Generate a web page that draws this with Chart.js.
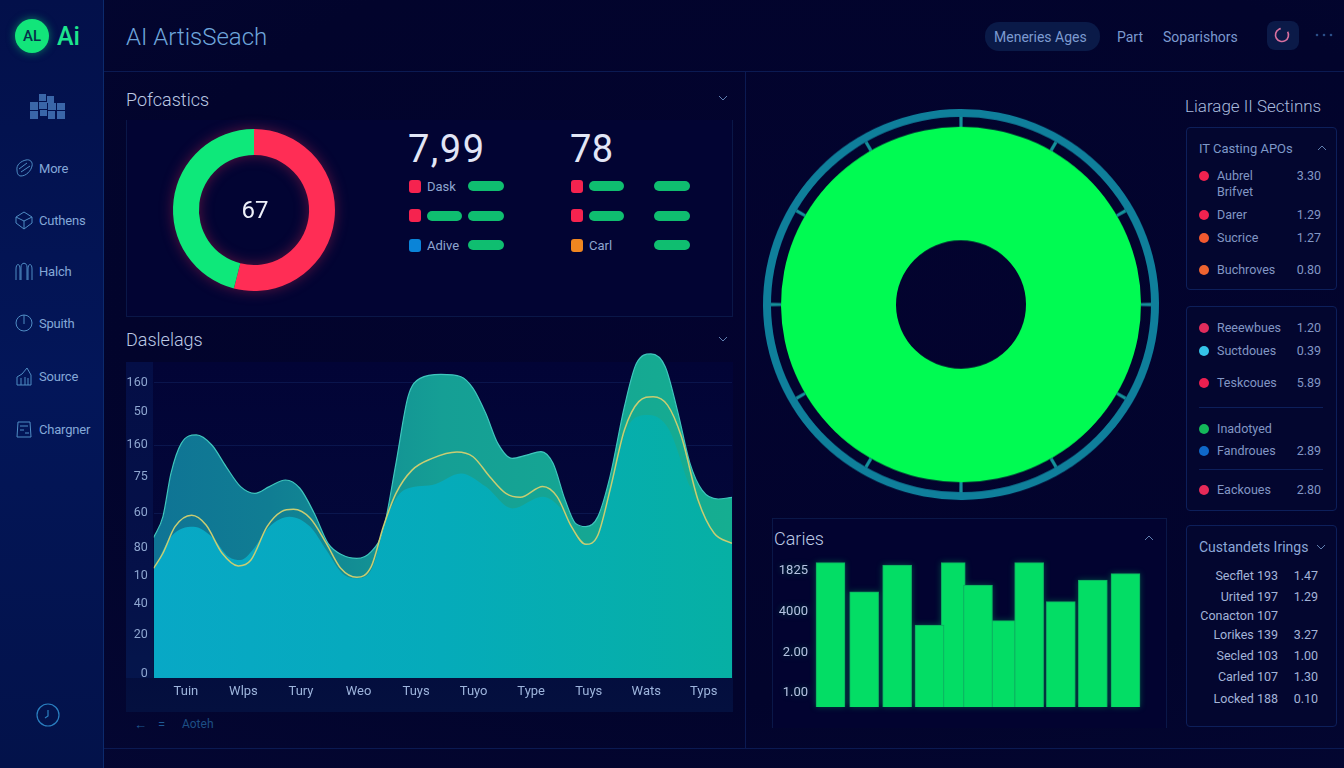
<!DOCTYPE html>
<html><head><meta charset="utf-8">
<script src="https://cdn.jsdelivr.net/npm/chart.js@4"></script>
<style>
html,body{margin:0;padding:0;background:#03042e;width:1344px;height:768px;overflow:hidden;font-family:Roboto,"Open Sans",sans-serif}
#root{position:relative;width:1344px;height:768px;overflow:hidden;background:radial-gradient(ellipse at 60% 40%,#03032f 0%,#02042c 60%,#040733 100%)}
.b{position:absolute;box-sizing:border-box}
.t{position:absolute;white-space:nowrap;transform:translateY(-50%);line-height:1}
.r{transform:translate(-100%,-50%)}
canvas{position:absolute;display:block}
svg{position:absolute;overflow:visible}
</style></head><body><div id="root"></div>
<script>
// ---- values ----
const donutSmallValues=[54,46];
const donutSmallColors=['#ff2d55','#0ee87a'];
const bigSolid=[100];
const bigTicks=[1,29,1,29,1,29,1,29,1,29,1,29,1,29,1,29,1,29,1,29,1,29,1,29];

const areaCats=['Tuin','Wlps','Tury','Weo','Tuys','Tuyo','Type','Tuys','Wats','Typs'];
const areaYTickVals=[2.4,26,45,62,79,100,122,141,161,179];
const areaYLabels=['0','20','40','10','80','60','75','160','50','160'];
const areaGridVals=[100,141,179];

const backX=[-.56,-.40,-.26,-.08,.18,.45,.70,.95,1.20,1.45,1.73,1.98,2.23,2.47,2.72,2.97,3.22,3.43,3.65,3.86,4.07,4.43,4.78,4.99,5.21,5.42,5.67,5.92,6.17,6.38,6.59,6.77,6.95,7.16,7.37,7.62,7.83,8.08,8.33,8.54,8.76,8.97,9.25,9.49];
const backY=[85.2,97.8,124,142.2,147.3,141.2,128,116,111.9,116,120,115,99.8,81.6,74.5,72.5,76.6,89.7,130.1,170.5,181.6,184,182.6,175.5,160.4,142.2,133.1,135.1,137.2,130.1,107.9,93.7,91.7,97.8,122,164.4,190.7,196.4,188.7,162.4,130.1,113.9,108.5,109.5];
const lineX=[-.56,-.40,-.19,.10,.35,.63,.91,1.13,1.41,1.66,1.87,2.16,2.44,2.69,2.97,3.22,3.43,3.65,3.93,4.28,4.71,4.99,5.28,5.56,5.81,6.20,6.45,6.70,6.95,7.16,7.37,7.62,7.87,8.12,8.37,8.61,8.90,9.18,9.49];
const lineY=[66.5,75.6,91.7,98.6,92.7,75.6,67.9,71.5,91.7,100.8,102.2,96.8,81.6,66.5,61,67.5,91.7,111.9,126,133.1,137,134.1,122,111.9,109.5,116,109.9,91.7,81,86.7,113.9,150.3,167.5,170.5,165.4,146.3,107.9,87.7,81.6];
const frontX=[-.56,-.26,.13,.45,.74,.95,1.16,1.45,1.80,2.16,2.44,2.72,2.97,3.22,3.50,3.79,4.28,4.78,5.21,5.67,6.20,6.49,6.91,7.16,7.41,7.76,8.05,8.40,8.76,9.18,9.49];
const frontY=[65.4,85.6,91.7,85.6,73.5,71.5,77.6,91.7,97.8,91.7,77.6,63.4,60.4,65.4,97.8,113.9,117,124,116,102.8,109.9,103.8,81.6,86.7,122,156.4,159.4,150.3,116,87.7,81.6];

const barX=[0,1.02,2.02,3,4.47,6.02,6.98,7.95,8.94];
const barY=[4.21,3.49,4.15,2.67,3.66,4.21,3.25,3.78,3.94];
const barNarrowX=[3.72,5.24];
const barNarrowY=[4.21,2.78];
const barYTicks=[1,2,3,4];
const barYLabels=['1.00','2.00','4000','1825'];

const navItems=['More','Cuthens','Halch','Spuith','Source','Chargner'];
const listOne=[['Aubrel','3.30','#f0224f'],['Darer','1.29','#f0224f'],['Sucrice','1.27','#f2592f'],['Buchroves','0.80','#ee6430']];
const listTwo=[['Reeewbues','1.20','#e02c5c'],['Suctdoues','0.39','#35c3e8'],['Teskcoues','5.89','#ec1f50'],['Inadotyed','','#14b85a'],['Fandroues','2.89','#0f68c8'],['Eackoues','2.80','#e62a58']];
const listThree=[['Secflet 193','1.47'],['Urited 197','1.29'],['Conacton 107',''],['Lorikes 139','3.27'],['Secled 103','1.00'],['Carled 107','1.30'],['Locked 188','0.10']];

// ---- page furniture ----
const root=document.getElementById('root');
function box(x,y,w,h,css){const d=document.createElement('div');d.className='b';d.style.cssText+=`left:${x}px;top:${y}px;width:${w}px;height:${h}px;`+(css||'');root.appendChild(d);return d;}
function txt(x,y,s,size,color,opt){opt=opt||{};const d=document.createElement('div');d.className='t'+(opt.right?' r':'');d.textContent=s;d.style.cssText+=`left:${x}px;top:${y}px;font-size:${size}px;color:${color};font-weight:${opt.w||400};`+(opt.css||'');root.appendChild(d);return d;}
function svg(x,y,w,h,inner){const n=document.createElementNS('http://www.w3.org/2000/svg','svg');n.setAttribute('width',w);n.setAttribute('height',h);n.setAttribute('viewBox',`0 0 ${w} ${h}`);n.style.left=x+'px';n.style.top=y+'px';n.innerHTML=inner;root.appendChild(n);}
function chev(x,y,up,c){svg(x,y,10,6,`<path d="M1 ${up?5:1} L5 ${up?1:5} L9 ${up?5:1}" fill="none" stroke="${c||'#5f7fb0'}" stroke-width="1"/>`);}
function canvas(x,y,w,h,css){const c=document.createElement('canvas');c.width=w;c.height=h;c.style.cssText=`left:${x}px;top:${y}px;width:${w}px;height:${h}px;`+(css||'');root.appendChild(c);return c;}

// sidebar + rules
box(0,0,104,768,'background:linear-gradient(180deg,#03104a 0%,#031659 50%,#03124a 100%);border-right:1px solid #0c2a6c');
box(104,71,1240,1,'background:#0b1a52');
box(745,71,1,677,'background:#0b1a52');
box(104,748,1240,1,'background:#0b1a52');

// logo
box(15,19,34,34,'border-radius:50%;background:#12e57a;box-shadow:0 0 8px rgba(18,229,122,.5)');
txt(32,36,'AL',15,'#06304a',{w:500,css:'transform:translate(-50%,-50%);'});
txt(57,36,'Ai',25,'#1de58e',{w:500});
// blocks icon
svg(30,94,36,26,'<g fill="#3a66a8"><rect x="9" y="0" width="7" height="7"/><rect x="17" y="2" width="7" height="7"/><rect x="0" y="8" width="8" height="8"/><rect x="9" y="8" width="8" height="7"/><rect x="18" y="9" width="8" height="7"/><rect x="27" y="9" width="8" height="7"/><rect x="0" y="17" width="8" height="8"/><rect x="10" y="16" width="7" height="6"/><rect x="18" y="17" width="7" height="8"/><rect x="27" y="17" width="8" height="8"/></g>');
const navY=[168,220,271,323,376,429];
const navIcons=[
 '<path d="M2 11 C1 6 6 2 11 1 C15 0 18 3 17 7 C16 12 11 17 6 17 C3 17 2 14 2 11 Z M4 10 L12 4 M6 13 L15 7"/>',
 '<path d="M1 6 L9 1 L17 6 L17 12 L9 18 L1 12 Z M1 6 L9 10 L17 6 M9 10 L9 18"/>',
 '<path d="M1 18 L1 7 C1 1 5 1 5 7 L5 18 M6 18 L6 5 C6 0 12 0 12 5 L12 18 M13 18 L13 7 C13 1 17 1 17 7 L17 18"/>',
 '<circle cx="9" cy="9" r="8"/><path d="M9 1 L9 10"/>',
 '<path d="M2 18 L2 10 L7 7 L12 1 L16 8 L16 18 Z M6 18 L6 11 M10 18 L10 10 M13 18 L13 11"/>',
 '<path d="M3 2 L15 2 L16 17 L2 17 Z M5 6 L13 6 M5 10 L9 10 M10 13 L14 13"/>'
];
navItems.forEach((n,i)=>{
  txt(39,navY[i],n,13,'#84a8d8',{css:'letter-spacing:-.2px;'});
  svg(15,navY[i]-9,18,18,`<g fill="none" stroke="#4f8cc4" stroke-width="1">${navIcons[i]}</g>`);
});
svg(36,703,24,24,'<circle cx="12" cy="12" r="11" fill="none" stroke="#2a7fc0" stroke-width="1.2"/><path d="M12 7 L12 13 L9 15" fill="none" stroke="#2a7fc0" stroke-width="1.2"/>');

// header
txt(126,37,'AI ArtisSeach',24,'#6ea6dc',{w:300});
box(985,22,115,29,'border-radius:14px;background:#0a1a48');
txt(994,37,'Meneries Ages',14,'#7c9ad0');
txt(1117,37,'Part',14,'#7c9ad0');
txt(1163,37,'Soparishors',14,'#7c9ad0');
box(1267,21,32,29,'border-radius:8px;background:#0b1a48');
svg(1274,27,16,16,'<circle cx="8" cy="8" r="6.5" fill="none" stroke="#d9709f" stroke-width="1.6" stroke-dasharray="32 9" transform="rotate(-30 8 8)"/>');
svg(1315,33,18,4,'<g fill="#2b4e88"><circle cx="2" cy="2" r="1.3"/><circle cx="9" cy="2" r="1.3"/><circle cx="16" cy="2" r="1.3"/></g>');

// left top panel
txt(126,100,'Pofcastics',18,'#bcc9e4',{w:300});
chev(718,95,false);
box(126,120,607,197,'border:1px solid #0a1748;border-top:none;background:#020433');
txt(408,149,'7,99',38,'#e2e6f6',{css:'letter-spacing:1.5px;'});
txt(570,149,'78',38,'#e2e6f6',{css:'letter-spacing:.5px;'});
function sq(x,y,c){box(x,y,12,13,`border-radius:3px;background:${c}`);}
function pill(x,y,w){box(x,y,w,10,'border-radius:5px;background:#0fbe70');}
sq(409,180,'#f5234f');txt(427,186,'Dask',13,'#8ea6d0');pill(468,181,36);
sq(409,209,'#f5234f');pill(427,211,35);pill(468,211,36);
sq(409,239,'#0a84d8');txt(427,245,'Adive',13,'#8ea6d0');pill(468,240,36);
sq(571,180,'#f5234f');pill(589,181,35);pill(654,181,36);
sq(571,209,'#f5234f');pill(589,211,35);pill(654,211,36);
sq(571,239,'#f08620');txt(589,245,'Carl',13,'#8ea6d0');pill(654,240,36);

// left chart panel
txt(126,340,'Daslelags',18,'#bcc9e4',{w:300});
chev(718,336,false);
box(126,362,607,350,'background:linear-gradient(180deg,#020436 0%,#03083a 60%,#04103f 100%)');
box(126,362,27,316,'background:rgba(10,40,110,.3)');
txt(134,724,'←',13,'#1f5a94');txt(158,724,'=',13,'#1f5a94');txt(182,724,'Aoteh',12,'#1d4f85');

// bars panel
box(772,518,395,210,'border:1px solid #0a1748;border-bottom:none;background:#020330');
txt(774,539,'Caries',18,'#bcc9e4',{w:300});
chev(1144,535,true);

// right lists
txt(1185,106,'Liarage II Sectinns',17,'#a9bbdd',{w:300});
const cardCss='border:1px solid #0d1f5a;border-radius:4px;background:#03062f';
box(1186,127,151,163,cardCss);
box(1186,306,151,205,cardCss);
box(1186,525,151,202,cardCss);
txt(1199,148,'IT Casting APOs',13,'#7d98c8');chev(1317,145,true);
txt(1199,547,'Custandets Irings',14,'#8ca8d8');chev(1316,544,false);
function row(y,item){
  box(1199,y-5,10,10,`border-radius:50%;background:${item[2]}`);
  txt(1217,y,item[0],12.5,'#8296c4');
  if(item[1])txt(1321,y,item[1],12.5,'#8296c4',{right:true});
}
const oneY=[176,215,238,270];
listOne.forEach((it,i)=>row(oneY[i],it));
txt(1217,192,'Brifvet',12.5,'#8296c4');
const twoY=[328,351,383,429,451,490];
listTwo.forEach((it,i)=>row(twoY[i],it));
box(1199,407,124,1,'background:#0d1f5a');box(1199,469,124,1,'background:#0d1f5a');
const threeY=[576,597,616,635,656,677,699];
listThree.forEach((it,i)=>{
  txt(1278,threeY[i],it[0],12.5,'#a3b4d8',{right:true});
  if(it[1])txt(1318,threeY[i],it[1],12.5,'#a3b4d8',{right:true});
});

// ---- charts ----
Chart.defaults.animation=false;
Chart.defaults.font.family='Roboto,"Open Sans",sans-serif';
const plain={legend:{display:false},tooltip:{enabled:false}};
const noPad=s=>{s.paddingTop=0;s.paddingBottom=0;s.paddingLeft=0;s.paddingRight=0;};

// small donut
new Chart(canvas(163,119,182,182,'filter:drop-shadow(0 0 7px rgba(255,45,85,.35))'),{
  type:'doughnut',
  data:{labels:['Red','Green'],datasets:[{data:donutSmallValues,backgroundColor:donutSmallColors,borderWidth:0,hoverOffset:0}]},
  options:{responsive:false,cutout:'68%',layout:{padding:10},plugins:plain}
});
txt(255,210,'67',24,'#eef1fa',{css:'transform:translate(-50%,-50%);'});

// large donut with segmented ring
new Chart(canvas(761,107,400,400,'height:395px;'),{
  type:'doughnut',
  data:{datasets:[
    {data:bigSolid,backgroundColor:['#0f7f9b'],borderWidth:0,weight:8,hoverOffset:0},
    {data:bigTicks,backgroundColor:bigTicks.map((v,i)=>i%2?'rgba(0,0,0,0)':'#15909a'),borderWidth:0,weight:10,hoverOffset:0},
    {data:bigSolid,backgroundColor:['#00fb52'],borderWidth:0,weight:115,hoverOffset:0}
  ]},
  options:{responsive:false,cutout:65,rotation:-0.5,layout:{padding:2},plugins:plain}
});

// area chart
function hGrad(ctx,stops){
  const a=ctx.chart.chartArea;if(!a)return stops[0][1];
  const g=ctx.chart.ctx.createLinearGradient(a.left,0,a.right,0);
  stops.forEach(s=>g.addColorStop(s[0],s[1]));return g;
}
const pairs=(xs,ys)=>xs.map((x,i)=>({x,y:ys[i]}));
const lineBase={pointRadius:0,cubicInterpolationMode:'monotone'};
new Chart(canvas(126,348,606,360),{
  type:'line',
  data:{datasets:[
    {...lineBase,order:3,data:pairs(backX,backY),fill:'origin',borderColor:'#3fc6bd',borderWidth:1.2,
      backgroundColor:c=>hGrad(c,[[0,'#0f7495'],[.2,'#107d93'],[.5,'#159f95'],[1,'#15ae91']])},
    {...lineBase,order:2,data:pairs(frontX,frontY),fill:'origin',borderWidth:0,
      backgroundColor:c=>hGrad(c,[[0,'#08a8c6'],[.5,'#05abba'],[1,'#06b0a4']])},
    {...lineBase,order:1,data:pairs(lineX,lineY),fill:false,borderColor:'#c9cd72',borderWidth:1.5}
  ]},
  options:{responsive:false,layout:{padding:0},plugins:plain,
    scales:{
      x:{type:'linear',min:-.56,max:9.49,
        afterBuildTicks:s=>{s.ticks=areaCats.map((_,i)=>({value:i}));},
        afterFit:s=>{s.height=30;noPad(s);},
        grid:{display:false,drawTicks:false,tickLength:0},border:{display:false},
        ticks:{autoSkip:false,maxRotation:0,padding:6,color:'#9db4dc',font:{size:13},callback:(v,i)=>areaCats[i]}},
      y:{min:0,max:200,
        afterBuildTicks:s=>{s.ticks=areaYTickVals.map(v=>({value:v}));},
        afterFit:s=>{s.width=27.7;noPad(s);},
        border:{display:false},
        grid:{drawTicks:false,tickLength:0,color:c=>areaGridVals.includes(c.tick.value)?'rgba(30,60,130,.3)':'rgba(0,0,0,0)'},
        ticks:{autoSkip:false,padding:6,color:'#8ea6d0',font:{size:12.5},callback:(v,i)=>areaYLabels[i]}}
    }}
});

// bar chart with uneven, overlapping bars
new Chart(canvas(772,545,370,162,'filter:drop-shadow(0 0 3px rgba(0,230,110,.3))'),{
  type:'bar',
  data:{datasets:[
    {order:0,data:pairs(barX,barY),backgroundColor:'#03dd65',borderColor:'#0fa860',borderWidth:1,barThickness:29,grouped:false},
    {order:1,data:pairs(barNarrowX,barNarrowY),backgroundColor:'#03dd65',borderColor:'#0fa860',borderWidth:1,barThickness:24,grouped:false}
  ]},
  options:{responsive:false,layout:{padding:{top:10}},plugins:plain,
    scales:{
      x:{type:'linear',offset:false,display:false,min:-.5,max:9.44,grid:{display:false},afterFit:noPad},
      y:{min:.65,max:4.4,
        afterBuildTicks:s=>{s.ticks=barYTicks.map(v=>({value:v}));},
        afterFit:s=>{s.width=42;noPad(s);},
        border:{display:false},grid:{display:false,drawTicks:false,tickLength:0},
        ticks:{padding:6,color:'#b5c3e2',font:{size:13},callback:(v,i)=>barYLabels[i]}}
    }}
});
</script></body></html>
